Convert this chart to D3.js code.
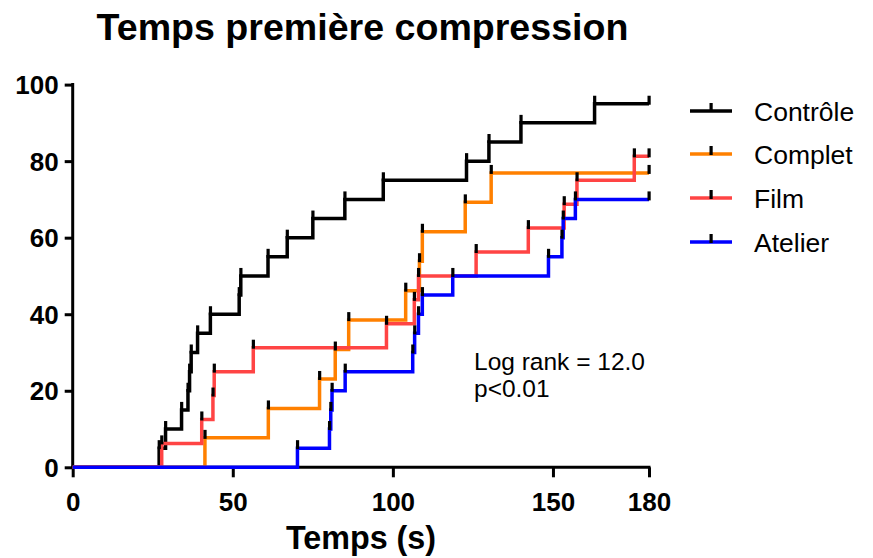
<!DOCTYPE html>
<html><head><meta charset="utf-8">
<script src="https://cdn.jsdelivr.net/npm/d3@7"></script>
<style>
html,body{margin:0;padding:0;background:#fff;}
text{font-family:Arial,"Liberation Sans",sans-serif;}
</style></head>
<body>
<svg id="chart" width="873" height="558"></svg>
<script>
const seriesNames = ["Contrôle", "Complet", "Film", "Atelier"];
const seriesColors = ["#000000", "#FF8000", "#FF4444", "#0000FF"];
// step events: [time (s), cumulative % after step]
const controle = [[27,5],[29,10],[34,15],[36,20],[36.5,25],[37,30],[39,35],[43,40],[52,45],[52.5,50],[61,55],[67,60],[75,65],[85,70],[97,75],[123,80],[130,85],[140,90],[163,95]];
const complet = [[41.3,7.69],[61.1,15.38],[77.1,23.08],[82,30.77],[86.2,38.46],[104,46.15],[108.3,53.85],[109.2,61.54],[122.6,69.23],[130.7,76.92]];
const film = [[27.8,6.25],[40.3,12.5],[43.8,18.75],[44.2,25],[56.4,31.25],[98,37.5],[106.7,43.75],[108,50],[126,56.25],[142.3,62.5],[153.5,68.75],[157.5,75],[175.4,81.25]];
const atelier = [[70.2,5],[80.2,10],[80.6,15],[81,20],[85.1,25],[106.2,30],[106.8,35],[108,40],[109.2,45],[118.7,50],[148.6,55],[152.8,60],[153.2,65],[157,70]];
const xTicks = [0, 50, 100, 150, 180];
const yTicks = [0, 20, 40, 60, 80, 100];
const xMax = 180;
const titleText = "Temps première compression";
const xLabel = "Temps (s)";
const annot = ["Log rank = 12.0", "p<0.01"];

const allSeries = [controle, complet, film, atelier];
const svg = d3.select("#chart");
const x = d3.scaleLinear().domain([0, 180]).range([72.7, 649]);
const y = d3.scaleLinear().domain([0, 100]).range([467.3, 84.6]);

// title
svg.append("text").attr("x", 362.5).attr("y", 40).attr("text-anchor", "middle")
  .style("font-size", "37.6px").style("font-weight", "bold").text(titleText);

// axes
const yAxis = d3.axisLeft(y).tickValues(yTicks).tickSize(8).tickPadding(6);
const gy = svg.append("g").attr("transform", `translate(${x(0)},0)`).call(yAxis);
const xAxis = d3.axisBottom(x).tickValues(xTicks).tickSize(10).tickPadding(15);
const gx = svg.append("g").attr("transform", `translate(0,${y(0)})`).call(xAxis);
[gx, gy].forEach(g => {
  g.select(".domain").remove();
  g.selectAll(".tick line").attr("stroke", "#000").attr("stroke-width", 3);
  g.selectAll(".tick text").attr("fill", "#000").style("font-size", "26px").style("font-weight", "bold")
    .style("font-family", "Arial, 'Liberation Sans', sans-serif");
});
gy.selectAll(".tick text").attr("dy", "0.35em");
gx.selectAll(".tick text").attr("dy", "0.71em");
svg.append("line").attr("x1", x(0)).attr("x2", x(0)).attr("y1", y(100) - 1.5).attr("y2", y(0) + 1.5)
  .attr("stroke", "#000").attr("stroke-width", 3);
svg.append("line").attr("x1", x(0) - 1.5).attr("x2", x(180) + 1.5).attr("y1", y(0)).attr("y2", y(0))
  .attr("stroke", "#000").attr("stroke-width", 3);

// x label
svg.append("text").attr("x", 361).attr("y", 549).attr("text-anchor", "middle")
  .style("font-size", "32.3px").style("font-weight", "bold").text(xLabel);

// curves
const line = d3.line().x(d => x(d[0])).y(d => y(d[1])).curve(d3.curveStepAfter);
allSeries.forEach((s, i) => {
  const pts = [[0, 0]].concat(s).concat([[xMax, s[s.length - 1][1]]]);
  svg.append("path").attr("d", line(pts)).attr("fill", "none")
    .attr("stroke", seriesColors[i]).attr("stroke-width", 3.5).attr("stroke-linejoin", "miter");
});
// censor ticks
allSeries.forEach((s, i) => {
  const pts = s.concat([[xMax, s[s.length - 1][1]]]);
  svg.append("g").selectAll("rect").data(pts).join("rect")
    .attr("x", d => x(d[0]) - 1.5).attr("y", d => y(d[1]) - 8)
    .attr("width", 3.2).attr("height", 9).attr("fill", "#000");
});

// annotation
svg.append("text").attr("x", 474).attr("y", 370).style("font-size", "24.5px").text(annot[0]);
svg.append("text").attr("x", 474).attr("y", 397).style("font-size", "24.5px").text(annot[1]);

// legend
const legY = [111, 154, 198, 242];
seriesNames.forEach((n, i) => {
  const g = svg.append("g");
  g.append("line").attr("x1", 690).attr("x2", 732).attr("y1", legY[i]).attr("y2", legY[i])
    .attr("stroke", seriesColors[i]).attr("stroke-width", 3.5);
  g.append("rect").attr("x", 709.5).attr("y", legY[i] - 8).attr("width", 3.2).attr("height", 9).attr("fill", "#000");
  g.append("text").attr("x", 754).attr("y", legY[i] + 9.5).style("font-size", "26.5px").text(n);
});
</script>
</body></html>
